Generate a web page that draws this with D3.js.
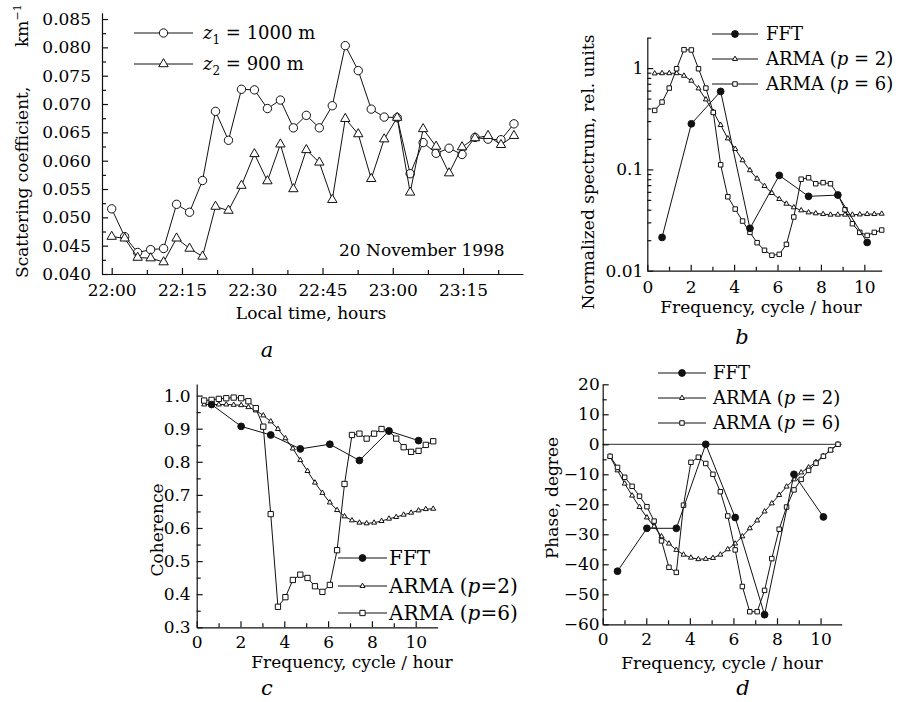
<!DOCTYPE html>
<html>
<head>
<meta charset="utf-8">
<script src="https://cdn.jsdelivr.net/npm/d3@7"></script>
<style>
    body { margin: 0; background: #fff; }
    svg text { font-family: "DejaVu Serif", serif; fill: #000; }
    .axis path, .axis line { stroke: #111; stroke-width: 1.2; }
    .axis text { font-family: "DejaVu Serif", serif; font-size: 17px; fill: #000; }
    .title { font-size: 17px; }
    .leg { font-size: 18px; }
    .legc { font-size: 20px; }
    .tag { font-size: 21px; font-style: italic; }
</style>
</head>
<body>
<svg id="chart" width="904" height="702"></svg>
<script>
// ---- panel a: time series (minutes after 22:00) ----
const minutes = [0, 2.77, 5.54, 8.31, 11.08, 13.85, 16.62, 19.39, 22.16, 24.93, 27.70, 30.47, 33.24, 36.01, 38.78, 41.55,
    44.32, 47.09, 49.86, 52.63, 55.40, 58.17, 60.94, 63.71, 66.48, 69.25, 72.02, 74.79, 77.56, 80.33, 83.10, 85.87]
const scatZ1 = [0.0515, 0.0466, 0.0438, 0.0443, 0.0445, 0.0523, 0.0509, 0.0565, 0.0687, 0.0636, 0.0726, 0.0725, 0.0692, 0.0707, 0.0658, 0.0680,
    0.0658, 0.0697, 0.0803, 0.0759, 0.0691, 0.0677, 0.0676, 0.0577, 0.0632, 0.0613, 0.0622, 0.0611, 0.0641, 0.0638, 0.0637, 0.0665]
const scatZ2 = [0.0466, 0.0463, 0.0429, 0.0428, 0.0421, 0.0463, 0.0445, 0.0431, 0.0519, 0.0512, 0.0556, 0.0612, 0.0564, 0.0629, 0.0550, 0.0619,
    0.0597, 0.0531, 0.0674, 0.0647, 0.0568, 0.0638, 0.0676, 0.0544, 0.0656, 0.0625, 0.0578, 0.0624, 0.0640, 0.0644, 0.0628, 0.0644]
const timeTicks = [0, 15, 30, 45, 60, 75]
const timeLabels = ["22:00", "22:15", "22:30", "22:45", "23:00", "23:15"]
const scatTicks = [0.040, 0.045, 0.050, 0.055, 0.060, 0.065, 0.070, 0.075, 0.080, 0.085]

// ---- frequency grids (cycle/hour) ----
const freq = [0.34, 0.68, 1.01, 1.35, 1.69, 2.03, 2.36, 2.70, 3.04, 3.38, 3.71, 4.05, 4.39, 4.73, 5.06, 5.40,
    5.74, 6.08, 6.41, 6.75, 7.09, 7.43, 7.76, 8.10, 8.44, 8.78, 9.11, 9.45, 9.79, 10.13, 10.46, 10.80]
const fftFreq = [0.68, 2.03, 3.38, 4.73, 6.08, 7.43, 8.78, 10.13]
const freqTicks = [0, 2, 4, 6, 8, 10]

// ---- panel b: normalized spectrum ----
const specFFT = [0.0213, 0.282, 0.589, 0.0262, 0.0873, 0.0542, 0.0558, 0.019]
const specAR2 = [0.885, 0.89, 0.89, 0.89, 0.84, 0.75, 0.63, 0.49, 0.37, 0.274, 0.202, 0.159, 0.123, 0.098, 0.081, 0.0685,
    0.0584, 0.051, 0.0458, 0.0422, 0.0394, 0.0376, 0.0368, 0.0362, 0.0357, 0.0357, 0.0357, 0.0357, 0.0359, 0.0362, 0.0362, 0.0365]
const specAR6 = [0.382, 0.462, 0.635, 0.985, 1.52, 1.51, 0.985, 0.635, 0.365, 0.111, 0.0537, 0.0406, 0.0309, 0.0239, 0.0189, 0.0159,
    0.0142, 0.0145, 0.0182, 0.0339, 0.080, 0.0827, 0.0722, 0.074, 0.0722, 0.0566, 0.040, 0.0291, 0.0239, 0.0223, 0.0239, 0.0252]

// ---- panel c: coherence ----
const cohFFT = [0.973, 0.907, 0.881, 0.839, 0.853, 0.804, 0.893, 0.864]
const cohAR2 = [0.973, 0.973, 0.973, 0.973, 0.972, 0.971, 0.965, 0.955, 0.940, 0.922, 0.899, 0.871, 0.840, 0.805, 0.772, 0.737,
    0.706, 0.677, 0.654, 0.635, 0.623, 0.616, 0.614, 0.616, 0.621, 0.628, 0.633, 0.640, 0.646, 0.653, 0.657, 0.658]
const cohAR6 = [0.985, 0.987, 0.990, 0.992, 0.994, 0.992, 0.983, 0.962, 0.906, 0.642, 0.362, 0.391, 0.443, 0.459, 0.449, 0.424,
    0.407, 0.428, 0.533, 0.733, 0.881, 0.885, 0.870, 0.885, 0.899, 0.893, 0.870, 0.844, 0.830, 0.833, 0.851, 0.862]
const cohTicks = [0.3, 0.4, 0.5, 0.6, 0.7, 0.8, 0.9, 1.0]

// ---- panel d: phase ----
const phFFT = [-42.3, -28.0, -28.0, 0, -24.4, -56.8, -10.0, -24.2]
const phAR2 = [-4.1, -8.7, -13.1, -17.1, -20.9, -24.4, -27.4, -30.7, -33.1, -35.2, -36.8, -37.8, -38.3, -38.2, -37.9, -36.8,
    -35.0, -33.1, -30.7, -28.0, -25.4, -22.4, -19.7, -16.9, -14.1, -11.7, -9.4, -7.7, -5.9, -3.9, -1.9, 0]
const phAR6 = [-4.0, -7.7, -11.0, -14.0, -17.3, -20.8, -25.6, -32.2, -41.0, -42.7, -20.3, -6.0, -4.3, -6.4, -10.0, -15.8,
    -23.9, -35.2, -47.4, -55.8, -55.8, -48.7, -38.1, -28.3, -20.9, -15.2, -11.7, -8.7, -6.3, -4.0, -1.9, 0]
const phTicks = [-60, -50, -40, -30, -20, -10, 0, 10, 20]

var svg = d3.select("#chart")
var ink = "#111"

// draw one series: polyline + markers
function series(xs, ys, x, y, sym, size, fill) {
    svg.append("path")
        .attr("d", d3.line().x((d, i) => x(xs[i])).y(d => y(d))(ys))
        .attr("fill", "none").attr("stroke", ink).attr("stroke-width", 1);
    svg.append("g").selectAll("path")
        .data(ys).enter().append("path")
        .attr("transform", (d, i) => "translate(" + x(xs[i]) + "," + y(d) + ")")
        .attr("d", d3.symbol().type(sym).size(size))
        .attr("fill", fill).attr("stroke", ink).attr("stroke-width", 1);
}

// legend row: short line, marker in the middle, label with italic part
function legendRow(x1, x2, yy, sym, size, fill, parts, tx, cls) {
    svg.append("line").attr("x1", x1).attr("x2", x2).attr("y1", yy).attr("y2", yy)
        .attr("stroke", ink).attr("stroke-width", 1);
    svg.append("path").attr("transform", "translate(" + ((x1 + x2) / 2) + "," + yy + ")")
        .attr("d", d3.symbol().type(sym).size(size))
        .attr("fill", fill).attr("stroke", ink).attr("stroke-width", 1);
    var t = svg.append("text").attr("class", cls || "leg").attr("x", tx).attr("y", yy).attr("dy", "0.36em");
    parts.forEach(p => {
        var s = t.append("tspan").text(p[0]);
        if (p[1] == "i") s.attr("font-style", "italic");
        if (p[1] == "sub") s.attr("font-size", "12px").attr("dy", 5);
        if (p[1] == "up") s.attr("dy", -5);
    });
}

function axes(x, y, ox, oy, xt, xf, xm, yt, yf, ym, xpad, ypad) {
    svg.append("g").attr("class", "axis").attr("transform", "translate(0," + oy + ")")
        .call(d3.axisBottom(x).tickValues(xt).tickFormat(xf).tickSizeInner(-6).tickSizeOuter(0).tickPadding(xpad));
    svg.append("g").attr("class", "axis").attr("transform", "translate(0," + oy + ")")
        .call(d3.axisBottom(x).tickValues(xm).tickFormat("").tickSizeInner(-4).tickSizeOuter(0))
        .select(".domain").remove();
    svg.append("g").attr("class", "axis").attr("transform", "translate(" + ox + ",0)")
        .call(d3.axisLeft(y).tickValues(yt).tickFormat(yf).tickSizeInner(-6).tickSizeOuter(0).tickPadding(ypad));
    svg.append("g").attr("class", "axis").attr("transform", "translate(" + ox + ",0)")
        .call(d3.axisLeft(y).tickValues(ym).tickFormat("").tickSizeInner(-4).tickSizeOuter(0))
        .select(".domain").remove();
}

function vlabel(txt, xb, yc) {
    svg.append("text").attr("class", "title")
        .attr("transform", "translate(" + xb + "," + yc + ") rotate(-90)")
        .attr("text-anchor", "middle").text(txt);
}
function hlabel(txt, xc, yb, cls) {
    svg.append("text").attr("class", cls || "title").attr("x", xc).attr("y", yb)
        .attr("text-anchor", "middle").text(txt);
}

// ================= a =================
var xA = d3.scaleLinear().domain([-2.07, 87.8]).range([102, 523])
var yA = d3.scaleLinear().domain([0.04, 0.0861]).range([274, 12.8])
axes(xA, yA, 102, 274, timeTicks, (d, i) => timeLabels[i], [7.5, 22.5, 37.5, 52.5, 67.5, 82.5],
    scatTicks, d3.format(".3f"), d3.range(0.0425, 0.085, 0.005), 10, 11)
series(minutes, scatZ1, xA, yA, d3.symbolCircle, 55, "#fff")
series(minutes, scatZ2, xA, yA, d3.symbolTriangle, 38, "#fff")
legendRow(134, 193, 33, d3.symbolCircle, 55, "#fff", [["z", "i"], ["1", "sub"], [" = 1000 m", "up"]], 203)
legendRow(134, 193, 64, d3.symbolTriangle, 38, "#fff", [["z", "i"], ["2", "sub"], [" = 900 m", "up"]], 203)
svg.append("text").attr("class", "title").attr("x", 339).attr("y", 256).text("20 November 1998")
svg.append("text").attr("class", "title")
    .attr("transform", "translate(28,278) rotate(-90)").text("Scattering coefficient,")
var km = svg.append("text").attr("class", "title")
    .attr("transform", "translate(28,47) rotate(-90)").text("km")
km.append("tspan").attr("font-size", "11px").attr("dy", -7).text("−1")
hlabel("Local time, hours", 311, 319)
hlabel("a", 267, 357, "tag")

// ================= b =================
var xB = d3.scaleLinear().domain([0, 10.8]).range([647.3, 881.7])
var yB = d3.scaleLog().domain([0.01, 2]).range([270.7, 37.6])
axes(xB, yB, 647.3, 270.7, freqTicks, d3.format("d"), [1, 3, 5, 7, 9],
    [0.01, 0.1, 1], d => d == 1 ? "1" : String(d), [0.02, 0.03, 0.04, 0.05, 0.06, 0.07, 0.08, 0.09,
        0.2, 0.3, 0.4, 0.5, 0.6, 0.7, 0.8, 0.9, 2], 10, 4)
series(freq, specAR2, xB, yB, d3.symbolTriangle, 11, "#fff")
series(freq, specAR6, xB, yB, d3.symbolSquare, 20, "#fff")
series(fftFreq, specFFT, xB, yB, d3.symbolCircle, 36, ink)
legendRow(712, 758, 34, d3.symbolCircle, 36, ink, [["FFT", ""]], 766)
legendRow(712, 758, 59, d3.symbolTriangle, 11, "#fff", [["ARMA (", ""], ["p", "i"], [" = 2)", ""]], 766)
legendRow(712, 758, 84, d3.symbolSquare, 20, "#fff", [["ARMA (", ""], ["p", "i"], [" = 6)", ""]], 766)
vlabel("Normalized spectrum, rel. units", 594, 172)
hlabel("Frequency, cycle / hour", 761, 313)
hlabel("b", 742, 344, "tag")

// ================= c =================
var xC = d3.scaleLinear().domain([0, 11]).range([196.7, 437.6])
var yC = d3.scaleLinear().domain([0.3, 1.035]).range([627.3, 384])
axes(xC, yC, 196.7, 627.3, freqTicks, d3.format("d"), [1, 3, 5, 7, 9],
    cohTicks, d3.format(".1f"), [0.35, 0.45, 0.55, 0.65, 0.75, 0.85, 0.95], 9, 6)
series(freq, cohAR2, xC, yC, d3.symbolTriangle, 11, "#fff")
series(freq, cohAR6, xC, yC, d3.symbolSquare, 28, "#fff")
series(fftFreq, cohFFT, xC, yC, d3.symbolCircle, 36, ink)
legendRow(338, 387, 558, d3.symbolCircle, 36, ink, [["FFT", ""]], 389, "legc")
legendRow(338, 387, 586, d3.symbolTriangle, 11, "#fff", [["ARMA (", ""], ["p", "i"], ["=2)", ""]], 389, "legc")
legendRow(338, 387, 613, d3.symbolSquare, 28, "#fff", [["ARMA (", ""], ["p", "i"], ["=6)", ""]], 389, "legc")
vlabel("Coherence", 163, 530)
hlabel("Frequency, cycle / hour", 352, 668)
hlabel("c", 267, 695, "tag")

// ================= d =================
var xD = d3.scaleLinear().domain([0, 10.97]).range([602.7, 841.7])
var yD = d3.scaleLinear().domain([-60, 20]).range([624.3, 384.3])
svg.append("line").attr("x1", xD(0)).attr("x2", xD(10.97)).attr("y1", yD(0)).attr("y2", yD(0))
    .attr("stroke", "#555").attr("stroke-width", 1.3)
axes(xD, yD, 602.7, 624.3, freqTicks, d3.format("d"), [1, 3, 5, 7, 9],
    phTicks, d3.format("d"), [-55, -45, -35, -25, -15, -5, 5, 15], 9, 3)
series(freq, phAR2, xD, yD, d3.symbolTriangle, 11, "#fff")
series(freq, phAR6, xD, yD, d3.symbolSquare, 20, "#fff")
series(fftFreq, phFFT, xD, yD, d3.symbolCircle, 36, ink)
legendRow(658, 706, 373, d3.symbolCircle, 36, ink, [["FFT", ""]], 713)
legendRow(658, 706, 398, d3.symbolTriangle, 11, "#fff", [["ARMA (", ""], ["p", "i"], [" = 2)", ""]], 713)
legendRow(658, 706, 423, d3.symbolSquare, 20, "#fff", [["ARMA (", ""], ["p", "i"], [" = 6)", ""]], 713)
vlabel("Phase, degree", 558, 498)
hlabel("Frequency, cycle / hour", 722, 669)
hlabel("d", 743, 695, "tag")
</script>
</body>
</html>
